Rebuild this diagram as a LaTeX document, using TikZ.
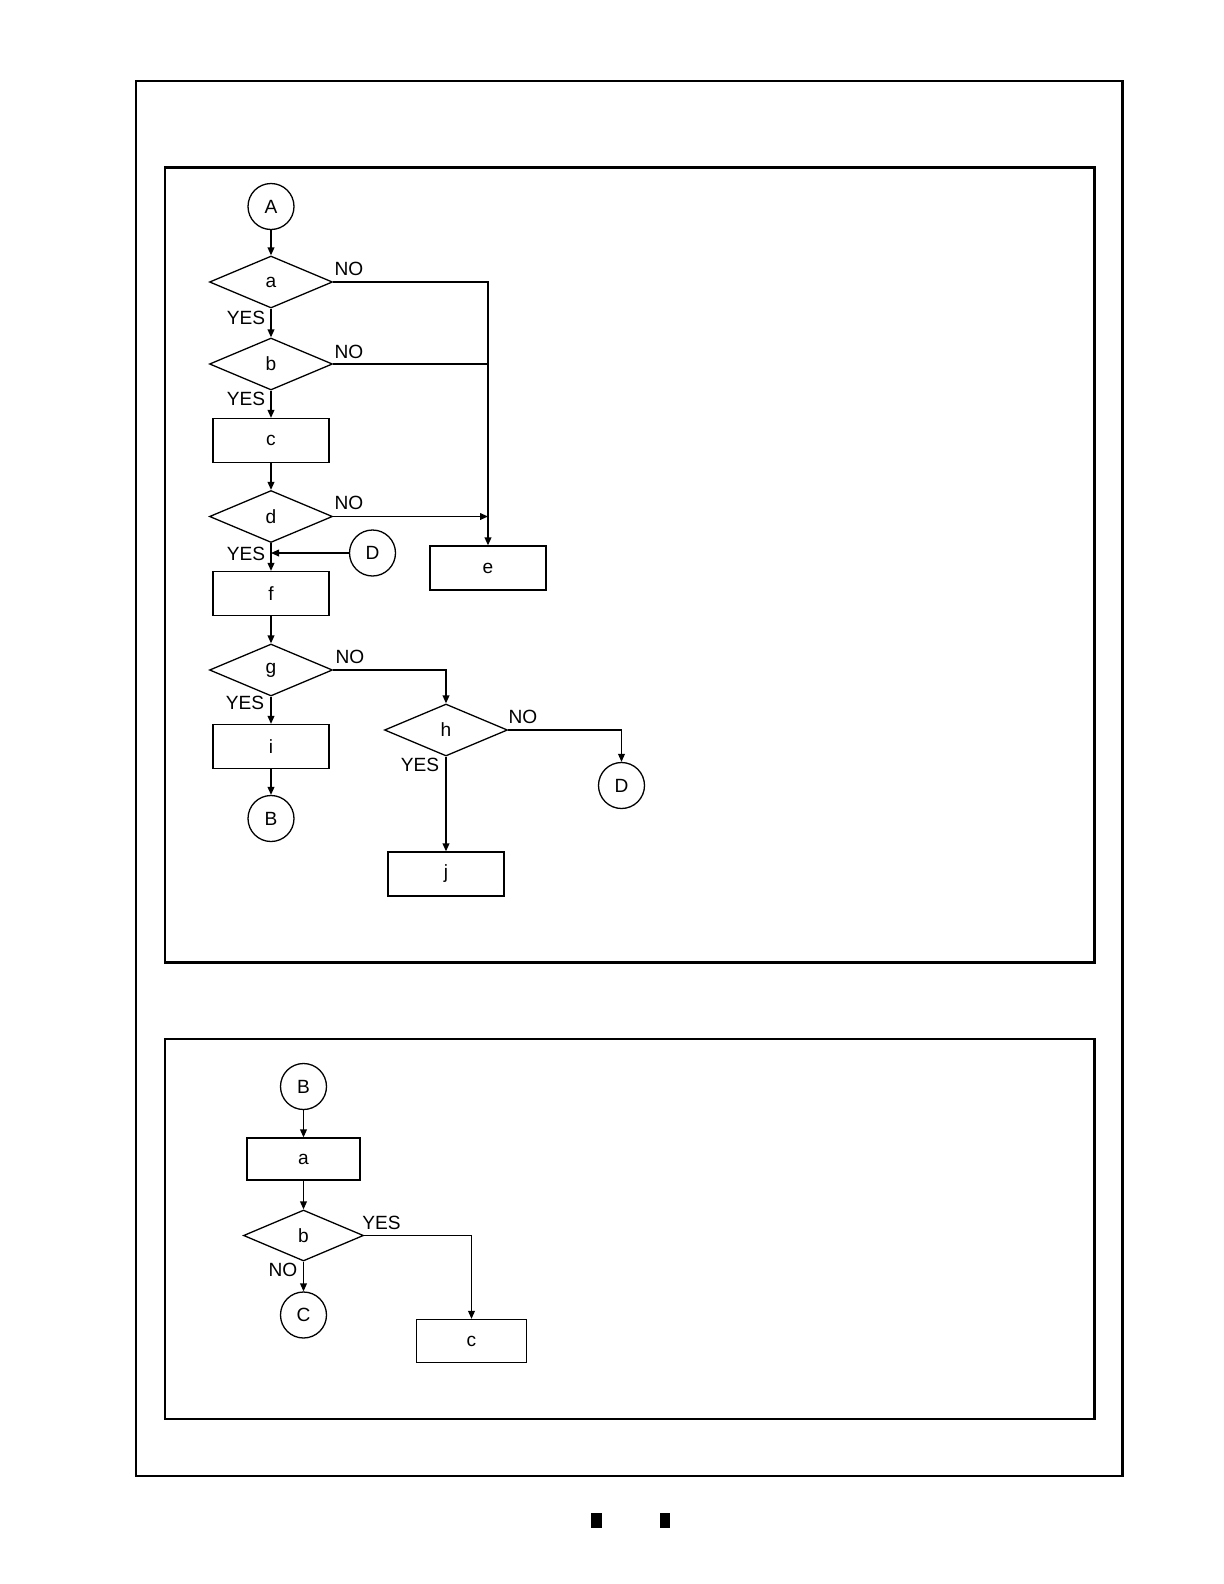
\documentclass[tikz,border=0pt]{standalone}
\usepackage{fontspec}
\setmainfont{Liberation Sans}
\usetikzlibrary{shapes.geometric,arrows.meta}
\begin{document}
\begin{tikzpicture}[x=0.5bp, y=-0.5bp, line width=0.65bp, >={Triangle[length=4bp,width=3.4bp]},
  every node/.style={font=\fontsize{9.6}{11}\selectfont, inner sep=1pt},
  decision/.style={diamond, draw, minimum width=61.5bp, minimum height=26bp, aspect=2.3},
  process/.style={rectangle, draw, minimum width=58bp, minimum height=22bp},
  connector/.style={circle, draw, minimum size=23bp},
  panel/.style={draw, line width=1.1bp},
  tick/.style={fill=black}]
  \useasboundingbox (0,0) rectangle (1224,1584);
  % frames
  \draw[panel] (136,81) rectangle (1122.5,1476);
  \draw[panel] (165,167.5) rectangle (1094.5,962.5);
  \draw[panel] (165,1039) rectangle (1094.5,1419);
  \fill[tick] (591,1513) rectangle (601.5,1528);
  \fill[tick] (659.5,1513) rectangle (670,1528);

  % upper chart
  \node[connector] (A) at (271,206.5) {A};
  \node[decision] (a) at (271,282) {a};
  \node[decision] (b) at (271,364) {b};
  \node[process] (c) at (271,440.5) {c};
  \node[decision] (d) at (271,516.5) {d};
  \node[process] (e) at (488,568) {e};
  \node[connector] (D1) at (372.5,553) {D};
  \node[process] (f) at (271,593.5) {f};
  \node[decision] (g) at (271,670) {g};
  \node[process] (i) at (271,746.5) {i};
  \node[connector] (B1) at (271,818.5) {B};
  \node[decision] (h) at (446,730) {h};
  \node[connector] (D2) at (621.5,785.5) {D};
  \node[process] (j) at (446,874) {j};
  \coordinate (merge) at (488,282);
  \coordinate (dyes) at (271,553);

  \node (noa) at (349,269) {NO};
  \node (yesa) at (246,318) {YES};
  \node (nob) at (349,352) {NO};
  \node (yesb) at (246,399) {YES};
  \node (nod) at (349,503) {NO};
  \node (yesd) at (246,554) {YES};
  \node (nog) at (350,657) {NO};
  \node (yesg) at (245,703) {YES};
  \node (yesh) at (420,765) {YES};
  \node (noh) at (523,717) {NO};

  \draw[->] (A) -- (a);
  \draw[->] (a) -- (b);
  \draw[->] (b) -- (c);
  \draw[->] (c) -- (d);
  \draw[->] (d) -- (f);
  \draw[->] (D1) -- (dyes);
  \draw[->] (a.east) -- (merge) -- (merge |- e.north);
  \draw (b.east) -- (b.east -| merge);
  \draw[->] (d.east) -- (d.east -| merge);
  \draw[->] (f) -- (g);
  \draw[->] (g) -- (i);
  \draw[->] (i) -- (B1);
  \draw[->] (g.east) -| (h.north);
  \draw[->] (h.east) -| (D2.north);
  \draw[->] (h) -- (j);

  % lower chart
  \node[connector] (B2) at (303.5,1086.5) {B};
  \node[process, minimum width=56.5bp, minimum height=21bp] (a2) at (303.5,1159) {a};
  \node[decision, minimum width=60bp, minimum height=25.5bp] (b2) at (303.5,1235.5) {b};
  \node[connector] (C) at (303.5,1315) {C};
  \node[process, minimum width=55bp, minimum height=21.5bp] (c2) at (471.5,1341) {c};
  \node (yesb2) at (381.5,1223) {YES};
  \node (nob2) at (283,1270) {NO};

  \draw[->] (B2) -- (a2);
  \draw[->] (a2) -- (b2);
  \draw[->] (b2) -- (C);
  \draw[->] (b2.east) -| (c2.north);
\end{tikzpicture}
\end{document}
